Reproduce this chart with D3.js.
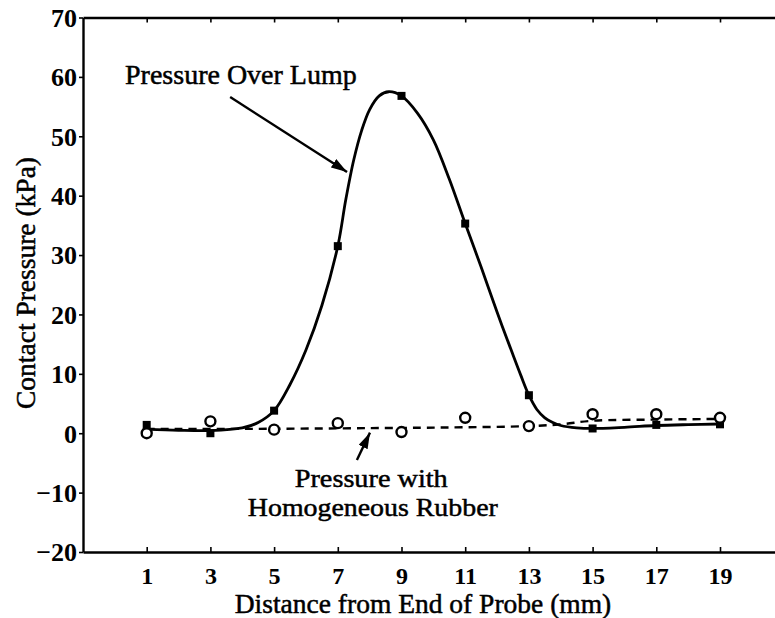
<!DOCTYPE html>
<html>
<head>
<meta charset="utf-8">
<script src="https://cdn.jsdelivr.net/npm/d3@7"></script>
<style>
  html, body { margin: 0; padding: 0; background: #fff; }
  svg { display: block; }
  text { font-family: "Liberation Serif", "Times New Roman", serif; fill: #000; }
</style>
</head>
<body>
<svg id="chart" width="775" height="618"></svg>
<script>
// ---- data ----
const distances = [1, 3, 5, 7, 9, 11, 13, 15, 17, 19];
const lumpValues = [1.4, 0.0, 3.8, 31.5, 56.8, 35.3, 6.4, 0.8, 1.4, 1.5];
const rubberValues = [0.0, 2.0, 0.6, 1.7, 0.2, 2.6, 1.2, 3.2, 3.2, 2.6];

// smooth fitted curve over the lump
const lumpCurveX = [1, 2, 3, 4, 4.5, 5, 5.5, 6, 6.5, 7, 7.25, 7.5, 7.75, 8, 8.3, 8.6, 9, 9.5, 10, 10.5, 11, 11.5, 12, 12.5, 12.75, 13, 13.25, 13.5, 13.75, 14, 14.5, 15, 16, 17, 18, 19];
const lumpCurveY = [0.7, 0.5, 0.45, 0.9, 1.8, 3.8, 8.2, 14, 21.5, 31.5, 39.3, 46, 51, 54.5, 56.8, 57.5, 56.8, 53.9, 49.4, 42.8, 35.3, 28.0, 20.4, 13.2, 9.7, 6.4, 4.0, 2.6, 1.8, 1.3, 0.9, 0.8, 1.0, 1.3, 1.45, 1.55];

// dashed fitted line for homogeneous rubber
const rubberCurveX = [1, 5, 9, 11, 13, 14, 15, 17, 19];
const rubberCurveY = [0.7, 0.75, 0.9, 1.0, 1.2, 1.5, 2.1, 2.3, 2.4];

const xTicks = [1, 3, 5, 7, 9, 11, 13, 15, 17, 19];
const yTicks = [-20, -10, 0, 10, 20, 30, 40, 50, 60, 70];

const xLabel = "Distance from End of Probe (mm)";
const yLabel = "Contact Pressure (kPa)";
const lumpNote = "Pressure Over Lump";
const rubberNote = ["Pressure with", "Homogeneous Rubber"];

// ---- layout ----
const svg = d3.select("#chart");
const plotLeft = 83, plotTop = 17.5, plotBottom = 552;
const x = d3.scaleLinear().domain([-1, 21]).range([plotLeft, plotLeft + 22 * 31.85]);
const y = d3.scaleLinear().domain([-20, 70]).range([plotBottom, plotTop]);

// axes
const gx = svg.append("g").attr("transform", `translate(0,${plotBottom})`)
  .call(d3.axisBottom(x).tickValues(xTicks).tickSizeInner(-5).tickSizeOuter(0).tickPadding(15));
const gxTop = svg.append("g").attr("transform", `translate(0,${plotTop})`)
  .call(d3.axisTop(x).tickValues(xTicks).tickSizeInner(-5).tickSizeOuter(0).tickFormat(""));
const gy = svg.append("g").attr("transform", `translate(${plotLeft},0)`)
  .call(d3.axisLeft(y).tickValues(yTicks).tickSizeInner(4).tickSizeOuter(0).tickPadding(2));

[gx, gxTop, gy].forEach(g => {
  g.select(".domain").attr("stroke", "#000").attr("stroke-width", 2.4);
  g.selectAll(".tick line").attr("stroke", "#000").attr("stroke-width", 1.6);
  g.selectAll("text").attr("fill", "#000");
});
gx.selectAll(".tick text").attr("font-size", 24).attr("font-weight", "bold");
gy.selectAll(".tick text").attr("font-size", 26).attr("font-weight", "bold").attr("dy", "0.34em");

// heavier look of the scanned text
const heavy = sel => sel.attr("stroke", "#000").attr("stroke-width", 0.5);

// axis titles
heavy(svg.append("text").attr("x", 423).attr("y", 613).attr("text-anchor", "middle")
  .attr("font-size", 27.5).text(xLabel));
heavy(svg.append("text").attr("transform", `translate(35,283) rotate(-90)`).attr("text-anchor", "middle")
  .attr("font-size", 27.5).text(yLabel));

// lines
const lineGen = d3.line().x(d => x(d[0])).y(d => y(d[1])).curve(d3.curveCatmullRom.alpha(0.5));
svg.append("path").datum(rubberCurveX.map((v, i) => [v, rubberCurveY[i]]))
  .attr("d", lineGen).attr("fill", "none").attr("stroke", "#000")
  .attr("stroke-width", 2.4).attr("stroke-dasharray", "8,6");
svg.append("path").datum(lumpCurveX.map((v, i) => [v, lumpCurveY[i]]))
  .attr("d", lineGen).attr("fill", "none").attr("stroke", "#000").attr("stroke-width", 2.8);

// markers
const sq = 8;
svg.append("g").selectAll("rect").data(distances.map((d, i) => [d, lumpValues[i]])).join("rect")
  .attr("x", d => x(d[0]) - sq / 2).attr("y", d => y(d[1]) - sq / 2)
  .attr("width", sq).attr("height", sq).attr("fill", "#000");
svg.append("g").selectAll("circle").data(distances.map((d, i) => [d, rubberValues[i]])).join("circle")
  .attr("cx", d => x(d[0])).attr("cy", d => y(d[1])).attr("r", 5)
  .attr("fill", "#fff").attr("stroke", "#000").attr("stroke-width", 2.4);

// annotations
const defs = svg.append("defs");
defs.append("marker").attr("id", "ah").attr("viewBox", "0 0 16 10").attr("refX", 16).attr("refY", 5)
  .attr("markerWidth", 16).attr("markerHeight", 10).attr("markerUnits", "userSpaceOnUse").attr("orient", "auto")
  .append("path").attr("d", "M0,0 L16,5 L0,10 Z").attr("fill", "#000");

const lumpArrow = [[3.62, 56.6], [7.29, 44.0]];
const rubberArrow = [[7.60, -4.5], [8.01, 0.1]];
[lumpArrow, rubberArrow].forEach(a => {
  svg.append("line").attr("x1", x(a[0][0])).attr("y1", y(a[0][1]))
    .attr("x2", x(a[1][0])).attr("y2", y(a[1][1]))
    .attr("stroke", "#000").attr("stroke-width", 2.4).attr("marker-end", "url(#ah)");
});

heavy(svg.append("text").attr("x", x(0.32)).attr("y", y(58.8)).attr("font-size", 28).text(lumpNote));
heavy(svg.append("text").attr("x", x(8.05)).attr("y", y(-9.0)).attr("text-anchor", "middle")
  .attr("font-size", 26).attr("textLength", 153).attr("lengthAdjust", "spacingAndGlyphs").text(rubberNote[0]));
heavy(svg.append("text").attr("x", x(8.1)).attr("y", y(-14.0)).attr("text-anchor", "middle")
  .attr("font-size", 26).attr("textLength", 250).attr("lengthAdjust", "spacingAndGlyphs").text(rubberNote[1]));
</script>
</body>
</html>
